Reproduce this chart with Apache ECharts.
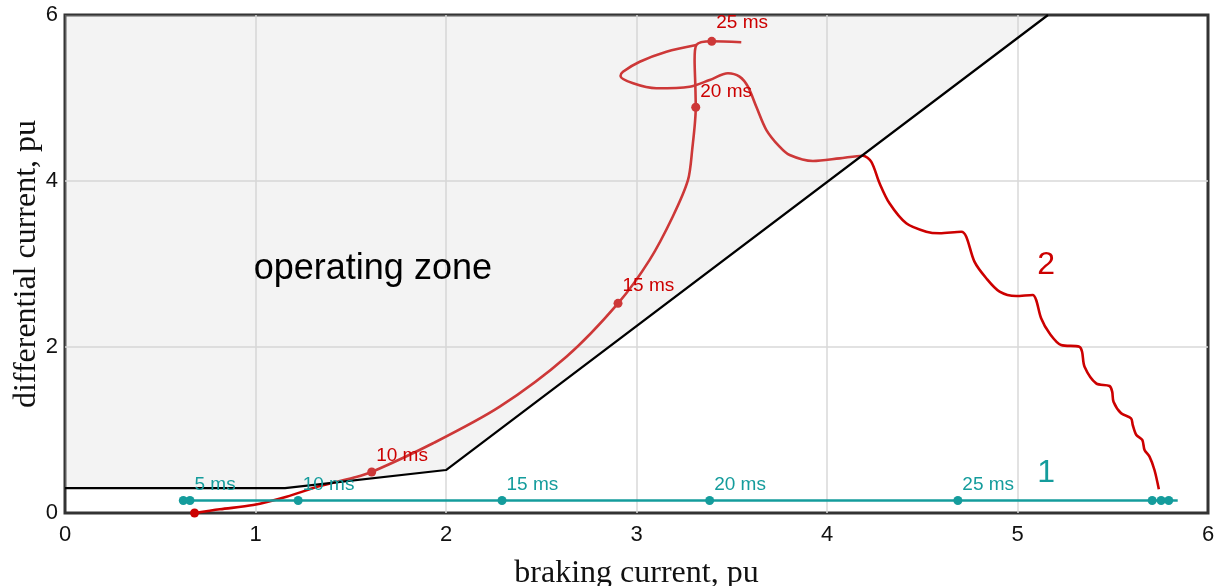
<!DOCTYPE html>
<html><head><meta charset="utf-8">
<script src="https://cdn.jsdelivr.net/npm/echarts@6/dist/echarts.min.js"></script>
<style>html,body{margin:0;padding:0;background:#fff}#c{width:1214px;height:586px}</style>
</head><body><div id="c"></div>
<script>
// ---- data ----
const xTicks = [0, 1, 2, 3, 4, 5, 6];
const yTicks = [0, 2, 4, 6];
const boundary = [[0, 0.3], [1.155, 0.3], [2, 0.518], [5.16, 6]];
const curve2a = [[0.68,0],[0.813,0.045],[0.988,0.096],[1.163,0.196],[1.338,0.325],[1.513,0.425],[1.61,0.494],[1.932,0.84],[2.282,1.281],[2.632,1.883],[2.903,2.526],[3.069,3.05],[3.19,3.57],[3.27,4.01],[3.292,4.37],[3.311,4.888],[3.309,5.136],[3.305,5.458],[3.314,5.639],[3.395,5.683],[3.55,5.671]];
const curve2b = [[3.314,5.639],[3.157,5.558],[3.017,5.437],[2.929,5.317],[2.916,5.265],[2.982,5.177],[3.104,5.117],[3.279,5.136],[3.384,5.217],[3.48,5.298],[3.541,5.257],[3.585,5.136],[3.629,4.895],[3.682,4.614],[3.751,4.413],[3.804,4.313],[3.926,4.241],[4.066,4.273],[4.188,4.305],[4.232,4.233],[4.276,3.972],[4.328,3.731],[4.416,3.49],[4.521,3.389],[4.591,3.37],[4.705,3.389],[4.731,3.329],[4.774,3.028],[4.836,2.828],[4.906,2.667],[4.993,2.614],[5.08,2.627],[5.098,2.566],[5.124,2.346],[5.168,2.165],[5.229,2.024],[5.325,2.004],[5.339,1.943],[5.352,1.763],[5.413,1.562],[5.483,1.53],[5.497,1.462],[5.504,1.341],[5.544,1.201],[5.596,1.141],[5.605,1.06],[5.624,0.94],[5.655,0.88],[5.667,0.759],[5.693,0.679],[5.719,0.518],[5.742,0.286]];
const dots2 = [[0.68,0],[1.61,0.494],[2.903,2.526],[3.311,4.888],[3.395,5.683]];
const dotLabels2 = ['', '10 ms', '15 ms', '20 ms', '25 ms'];
const curve1 = [[0.621,0.15],[5.841,0.15]];
const dots1 = [[0.621,0.15],[0.656,0.15],[1.224,0.15],[2.294,0.15],[3.384,0.15],[4.687,0.15],[5.707,0.15],[5.754,0.15],[5.794,0.15]];
const dotLabels1 = ['', '5 ms', '10 ms', '15 ms', '20 ms', '25 ms', '', '', ''];
const zoneText = 'operating zone';
const zonePos = [1.616, 2.94];
const curveNames = ['1', '2'];
const curveNamePos = [[5.15, 0.48], [5.15, 2.98]];

// ---- style ----
const RED = '#cc0000', TEAL = '#149c9c';
const SANS = '"Liberation Sans", Arial, sans-serif';
const SERIF = '"Liberation Serif", "Times New Roman", serif';

function labelPoints(pts, labels, color, yOffsets) {
  return pts.map((p, i) => ({
    value: p,
    label: { show: !!labels[i], formatter: labels[i], color: color, opacity: 1, fontSize: 19, fontFamily: SANS,
      position: 'right', distance: 4, offset: [0, (yOffsets && yOffsets[i]) || -16] }
  }));
}
const textSeries = (data) => ({ type: 'scatter', z: 10, symbolSize: 1, silent: true,
  itemStyle: { color: 'rgba(0,0,0,0)', opacity: 1 }, data: data });

const chart = echarts.init(document.getElementById('c'), null, { renderer: 'canvas' });
chart.setOption({
  animation: false,
  backgroundColor: '#fff',
  grid: { left: 65, right: 6, top: 15, bottom: 73, containLabel: false, outerBoundsMode: 'none',
    show: true, borderColor: '#333', borderWidth: 3, backgroundColor: 'transparent' },
  xAxis: {
    type: 'value', min: xTicks[0], max: xTicks[xTicks.length - 1], interval: 1,
    name: 'braking current, pu', nameLocation: 'middle', nameGap: 45,
    nameTextStyle: { fontFamily: SERIF, fontSize: 32, color: '#111' },
    axisLine: { show: false }, axisTick: { show: false },
    axisLabel: { fontFamily: SANS, fontSize: 22, color: '#111', margin: 11 },
    splitLine: { show: true, showMinLine: false, showMaxLine: false, lineStyle: { color: '#d9d9d9', width: 1.5 } }
  },
  yAxis: {
    type: 'value', min: yTicks[0], max: yTicks[yTicks.length - 1], interval: 2,
    name: 'differential current, pu', nameLocation: 'middle', nameGap: 22, nameMoveOverlap: false,
    nameTextStyle: { fontFamily: SERIF, fontSize: 32, color: '#111' },
    axisLine: { show: false }, axisTick: { show: false },
    axisLabel: { fontFamily: SANS, fontSize: 22, color: '#111', margin: 7 },
    splitLine: { show: true, showMinLine: false, showMaxLine: false, lineStyle: { color: '#d9d9d9', width: 1.5 } }
  },
  series: [
    { type: 'line', z: 2, data: curve2a, smooth: 0.3, showSymbol: false, symbol: 'none',
      lineStyle: { color: RED, width: 2.6 } },
    { type: 'line', z: 2, data: curve2b, smooth: 0.3, showSymbol: false, symbol: 'none',
      lineStyle: { color: RED, width: 2.6 } },
    { type: 'scatter', z: 2, data: dots2, symbolSize: 9, itemStyle: { color: RED, opacity: 1 } },
    { type: 'line', z: 3, data: boundary, showSymbol: false, symbol: 'none',
      lineStyle: { color: '#000', width: 2.2 },
      areaStyle: { origin: 'end', color: 'rgba(210,210,210,0.38)' } },
    { type: 'line', z: 4, data: curve1, showSymbol: false, symbol: 'none',
      lineStyle: { color: TEAL, width: 2.6 } },
    { type: 'scatter', z: 4, data: dots1, symbolSize: 9, itemStyle: { color: TEAL, opacity: 1 } },
    textSeries(labelPoints(dots2, dotLabels2, RED, [0, -16, -18, -16, -19])),
    textSeries(labelPoints(dots1, dotLabels1, TEAL)),
    textSeries([
      { value: zonePos, label: { show: true, formatter: zoneText, position: 'inside', fontFamily: SANS, fontSize: 36, color: '#000', opacity: 1 } },
      { value: curveNamePos[0], label: { show: true, formatter: curveNames[0], position: 'inside', fontFamily: SANS, fontSize: 32, color: TEAL, opacity: 1 } },
      { value: curveNamePos[1], label: { show: true, formatter: curveNames[1], position: 'inside', fontFamily: SANS, fontSize: 32, color: RED, opacity: 1 } }
    ])
  ]
});
</script>
</body></html>
